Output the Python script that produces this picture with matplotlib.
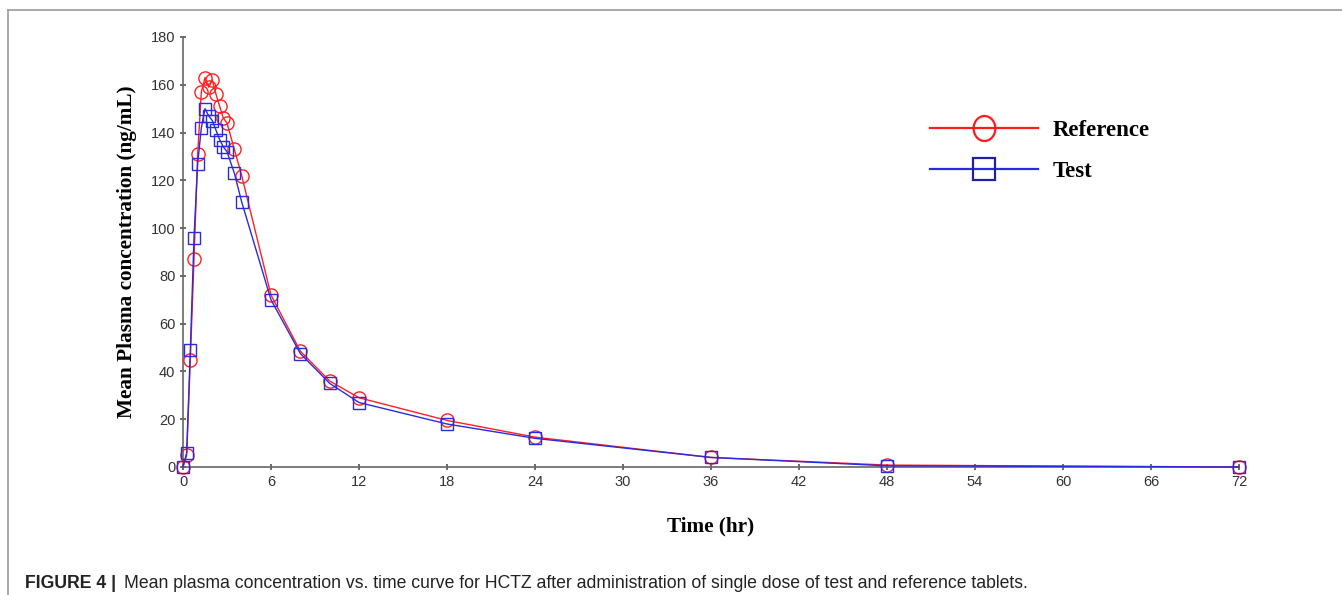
import matplotlib.pyplot as plt
import matplotlib.lines as mlines
from matplotlib.path import Path
from matplotlib.transforms import Affine2D

# time points (hr)
time_hr = [0, 0.25, 0.5, 0.75, 1, 1.25, 1.5, 1.75, 2, 2.25, 2.5, 2.75, 3,
           3.5, 4, 6, 8, 10, 12, 18, 24, 36, 48, 72]
# mean plasma concentration (ng/mL)
reference_conc = [0, 5, 45, 87, 131, 157, 163, 159, 162, 156, 151, 146, 144,
                  133, 122, 72, 48.5, 36, 29, 19.5, 12.5, 4, 0.8, 0]
test_conc = [0, 6, 49, 96, 127, 142, 150, 147, 145, 141, 137, 134, 132,
             123, 111, 70, 47.5, 35, 27, 18, 12, 4, 0.5, 0]

x_ticks = list(range(0, 73, 6))
y_ticks = list(range(0, 181, 20))

fig = plt.figure(figsize=(13.42, 5.95), dpi=100)
ax = fig.add_axes([183 / 1342, 128 / 595, (1239 - 183) / 1342, (467 - 37) / 595])

ax.plot(time_hr, reference_conc, color='#ff2020', lw=1.0, marker='o', ms=9.5,
        mfc='none', mec='#ff2020', mew=1.0, clip_on=False, zorder=3)
ax.plot(time_hr, test_conc, color='#2a2ae0', lw=1.0, marker='s', ms=8,
        mfc='none', mec='#2a2ae0', mew=1.0, clip_on=False, zorder=4)

ax.set_xlim(0, 72)
ax.set_ylim(0, 180)
ax.set_xticks(x_ticks)
ax.set_yticks(y_ticks)
for s in ['top', 'right']:
    ax.spines[s].set_visible(False)
for s in ['left', 'bottom']:
    ax.spines[s].set_color('#666666')
    ax.spines[s].set_linewidth(1.2)
ax.tick_params(direction='inout', length=5, width=1.1, color='#444444',
               labelsize=10.5, labelcolor='#333333', pad=3)
for lab in ax.get_xticklabels() + ax.get_yticklabels():
    lab.set_family('Liberation Sans')

ax.set_ylabel('Mean Plasma concentration (ng/mL)', family='Liberation Serif',
              fontweight='bold', fontsize=15.3, labelpad=10)
ax.set_xlabel('Time (hr)', family='Liberation Serif', fontweight='bold',
              fontsize=15.3, labelpad=20)

# legend with tall ellipse marker like the original
ellipse = Path.unit_circle().transformed(Affine2D().scale(0.87, 1.0))
h_ref = mlines.Line2D([], [], color='#ff1a1a', lw=1.6, marker=ellipse, ms=18,
                      mfc='none', mec='#ff1a1a', mew=1.6)
h_test = mlines.Line2D([], [], color='#2a2ae0', lw=1.6, marker='s', ms=16,
                       mfc='none', mec='#2020a0', mew=1.6)
ax.legend([h_ref, h_test], ['Reference', 'Test'], loc='upper left',
          bbox_to_anchor=(0.688, 0.855), frameon=False, handlelength=4.7,
          handletextpad=0.65, labelspacing=0.85,
          prop={'family': 'Liberation Serif', 'weight': 'bold', 'size': 16.5})

# figure frame lines (top and left)
fig.add_artist(mlines.Line2D([8 / 1342, 1], [1 - 10 / 595, 1 - 10 / 595],
                             color='#999999', lw=1.2))
fig.add_artist(mlines.Line2D([8 / 1342, 8 / 1342], [0, 1 - 10 / 595],
                             color='#999999', lw=1.2))

fig.text(25 / 1342, 7 / 595, 'FIGURE 4 |', family='Liberation Sans',
         fontweight='bold', fontsize=12.7, color='#222222', va='baseline')
fig.text(124 / 1342, 7 / 595,
         'Mean plasma concentration vs. time curve for HCTZ after administration '
         'of single dose of test and reference tablets.',
         family='Liberation Sans', fontsize=12.7, color='#222222', va='baseline')

fig.savefig('out.png', dpi=100)
